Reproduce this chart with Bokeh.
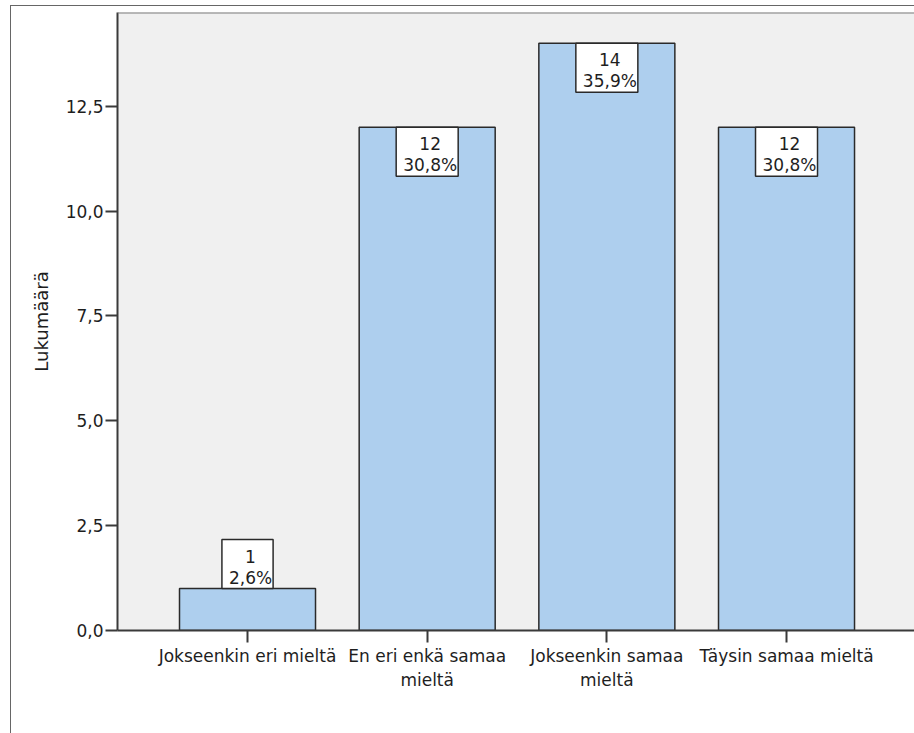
from bokeh.plotting import figure
from bokeh.models import ColumnDataSource, Range1d, FixedTicker, Span, InlineStyleSheet
from bokeh.core.properties import value
from bokeh.embed import file_html
from bokeh.resources import INLINE

# ---- data ----
categories = ["Jokseenkin eri mieltä", "En eri enkä samaa mieltä",
              "Jokseenkin samaa mieltä", "Täysin samaa mieltä"]
x_tick_labels = ["Jokseenkin eri mieltä", "En eri enkä samaa\nmieltä",
                 "Jokseenkin samaa\nmieltä", "Täysin samaa mieltä"]
counts = [1, 12, 14, 12]
percents = ["2,6%", "30,8%", "35,9%", "30,8%"]
y_ticks = [0, 2.5, 5, 7.5, 10, 12.5]
y_tick_labels = ["0,0", "2,5", "5,0", "7,5", "10,0", "12,5"]
y_axis_title = "Lukumäärä"

FONT = "DejaVu Sans"
TEXT = "#1e1e1e"
DARK = "#3a3a3a"

xs = list(range(len(categories)))
labels = [f"{c}\n{p}" for c, p in zip(counts, percents)]
Y_END = 14.735

# outer chart border (left and top edges) drawn by CSS over the canvas
border_css = InlineStyleSheet(css="""
:host { position: relative; }
:host::after {
  content: "";
  position: absolute;
  left: 10px; top: 5px; right: 0px; bottom: 0px;
  border-left: 1px solid #666666;
  border-top: 1px solid #666666;
  pointer-events: none;
  z-index: 100;
}
""")

p = figure(width=914, height=733, output_backend="svg", toolbar_location=None,
           x_range=Range1d(-0.7236, 3.7123), y_range=Range1d(0, Y_END),
           min_border_left=117, min_border_right=0, min_border_top=12,
           min_border_bottom=103, stylesheets=[border_css])
p.background_fill_color = "#f0f0f0"
p.border_fill_color = "white"
p.outline_line_color = None
p.xgrid.visible = False
p.ygrid.visible = False

src = ColumnDataSource(dict(x=xs, top=counts, label=labels))
p.vbar(x="x", top="top", bottom=0, width=0.757, source=src,
       fill_color="#aecfee", line_color="#2a2a2a", line_width=1.5)

ins = [i for i, c in enumerate(counts) if c >= 2]
out = [i for i, c in enumerate(counts) if c < 2]
src_in = ColumnDataSource(dict(x=[xs[i] for i in ins], y=[counts[i] for i in ins],
                               label=[labels[i] for i in ins]))
src_out = ColumnDataSource(dict(x=[xs[i] for i in out], y=[counts[i] for i in out],
                                label=[labels[i] for i in out]))
common = dict(text="label", text_align="center", text_font=value(FONT),
              text_font_size="17px", text_color=TEXT, text_line_height=1.05,
              background_fill_color="white", border_line_color="#2a2a2a",
              border_line_width=1.5, padding=(7, 1, 7, 1))
p.text(x="x", y="y", source=src_in, anchor="top_center", **common)
p.text(x="x", y="y", source=src_out, anchor="bottom_center", **common)

# top frame line
p.add_layout(Span(location=Y_END, dimension="width", line_color="#7a7a7a", line_width=2))

ya = p.yaxis[0]
ya.ticker = FixedTicker(ticks=y_ticks)
ya.major_label_overrides = {t: l for t, l in zip(y_ticks, y_tick_labels)}
ya.axis_label = y_axis_title
ya.axis_label_text_font = FONT
ya.axis_label_text_font_size = "18px"
ya.axis_label_text_font_style = "normal"
ya.axis_label_text_color = TEXT
ya.axis_label_standoff = 11
ya.major_label_text_font = FONT
ya.major_label_text_font_size = "17px"
ya.major_label_text_color = TEXT
ya.major_label_standoff = 2
ya.axis_line_color = DARK
ya.axis_line_width = 2
ya.major_tick_line_color = DARK
ya.major_tick_line_width = 2
ya.major_tick_out = 12
ya.major_tick_in = 0
ya.minor_tick_line_color = None

xa = p.xaxis[0]
xa.ticker = FixedTicker(ticks=xs)
xa.major_label_overrides = {x: l for x, l in zip(xs, x_tick_labels)}
xa.major_label_text_font = FONT
xa.major_label_text_font_size = "17px"
xa.major_label_text_color = TEXT
xa.major_label_standoff = 3
xa.axis_line_color = DARK
xa.axis_line_width = 2
xa.major_tick_line_color = DARK
xa.major_tick_line_width = 2
xa.major_tick_out = 12
xa.major_tick_in = 0
xa.minor_tick_line_color = None

open("out.html", "w").write(file_html(p, INLINE))
